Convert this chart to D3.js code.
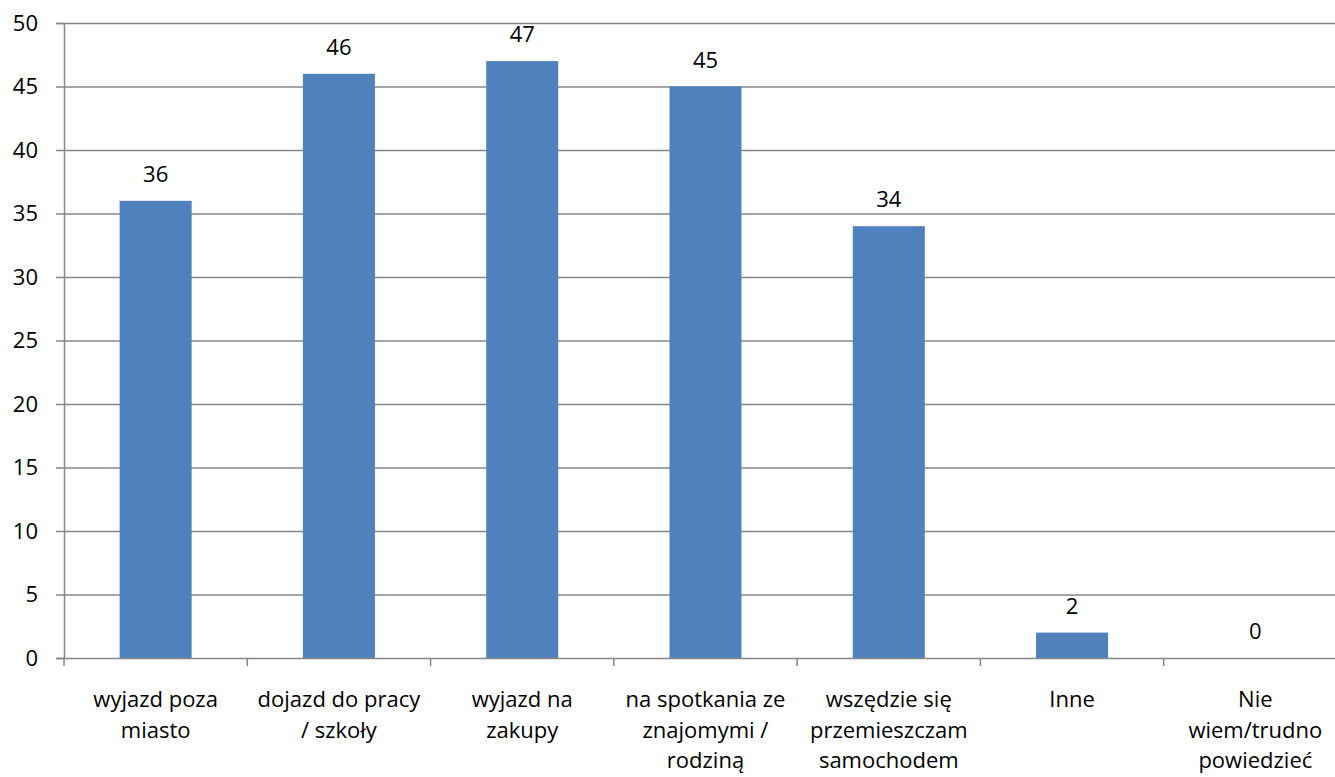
<!DOCTYPE html>
<html><head><meta charset="utf-8">
<script src="https://cdn.jsdelivr.net/npm/d3@7"></script>
<style>body{margin:0;background:#fff}svg{display:block}text{font-family:"Open Sans",sans-serif;fill:#000}</style>
</head><body>
<script>
const categories = [
  ["wyjazd poza","miasto"],
  ["dojazd do pracy","/ szkoły"],
  ["wyjazd na","zakupy"],
  ["na spotkania ze","znajomymi /","rodziną"],
  ["wszędzie się","przemieszczam","samochodem"],
  ["Inne"],
  ["Nie","wiem/trudno","powiedzieć"]
];
const values = [36, 46, 47, 45, 34, 2, 0];
const yTicks = [0,5,10,15,20,25,30,35,40,45,50];

const W = 1335, H = 777;
const mLeft = 64, mRight = 1347, mTop = 23, mBottom = 658;
const FS = 22;
const svg = d3.select("body").append("svg").attr("width", W).attr("height", H);
const idx = d3.range(values.length);
const x = d3.scaleBand().domain(idx).range([mLeft, mRight]).paddingInner(0).paddingOuter(0);
const y = d3.scaleLinear().domain([0, 50]).range([mBottom, mTop]);
const grid = "#878787";

// gridlines
svg.append("g").selectAll("line").data(yTicks.filter(t => t > 0)).join("line")
  .attr("x1", mLeft).attr("x2", mRight)
  .attr("y1", d => y(d) + 0.5).attr("y2", d => y(d) + 0.5)
  .attr("stroke", grid).attr("stroke-width", 1.5);

// y axis
const ya = svg.append("g").attr("transform", `translate(${mLeft},0)`)
  .call(d3.axisLeft(y).tickValues(yTicks).tickSize(8).tickPadding(18));
ya.select(".domain").attr("stroke", grid).attr("stroke-width", 1.5);
ya.selectAll(".tick line").attr("stroke", grid).attr("stroke-width", 1.5);
ya.selectAll(".tick text").attr("font-size", FS).attr("font-family", '"Open Sans",sans-serif').attr("fill", "#000");

// bars
const bw = x.bandwidth() * 0.393;
svg.append("g").selectAll("rect").data(idx).join("rect")
  .attr("x", i => x(i) + x.bandwidth() / 2 - bw / 2)
  .attr("width", bw)
  .attr("y", i => y(values[i]))
  .attr("height", i => y(0) - y(values[i]))
  .attr("fill", "#4F81BD");

// x axis
svg.append("line").attr("x1", mLeft).attr("x2", mRight).attr("y1", mBottom + 0.5).attr("y2", mBottom + 0.5)
  .attr("stroke", grid).attr("stroke-width", 1.5);
svg.append("g").selectAll("line").data(d3.range(values.length + 1)).join("line")
  .attr("x1", i => mLeft + i * x.bandwidth()).attr("x2", i => mLeft + i * x.bandwidth())
  .attr("y1", mBottom).attr("y2", mBottom + 8)
  .attr("stroke", grid).attr("stroke-width", 1.5);

// value labels
svg.append("g").selectAll("text").data(idx).join("text")
  .attr("x", i => x(i) + x.bandwidth() / 2)
  .attr("y", i => y(values[i]) - 19)
  .attr("text-anchor", "middle").attr("font-size", FS)
  .text(i => values[i]);

// category labels
const cl = svg.append("g").selectAll("text").data(idx).join("text")
  .attr("text-anchor", "middle").attr("font-size", FS);
cl.each(function(i) {
  d3.select(this).selectAll("tspan").data(categories[i]).join("tspan")
    .attr("x", x(i) + x.bandwidth() / 2)
    .attr("y", (d, j) => 707 + j * 30.5)
    .text(d => d);
});
</script>
</body></html>
